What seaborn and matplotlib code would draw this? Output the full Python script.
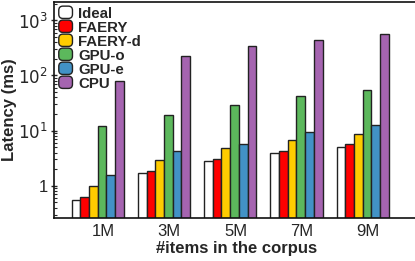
import numpy as np
import pandas as pd
import seaborn as sns
import matplotlib
matplotlib.use("Agg")
import matplotlib.pyplot as plt
from matplotlib.ticker import FixedLocator, LogLocator, NullFormatter
from matplotlib.legend_handler import HandlerPatch
from matplotlib.patches import FancyBboxPatch

categories = ["1M", "3M", "5M", "7M", "9M"]
series = ["Ideal", "FAERY", "FAERY-d", "GPU-o", "GPU-e", "CPU"]
ideal = [0.55, 1.67, 2.8, 3.9, 5.0]
faery = [0.63, 1.87, 3.1, 4.3, 5.6]
faery_d = [0.98, 2.9, 4.8, 6.8, 8.7]
gpu_o = [12.2, 18.8, 29.7, 43, 55]
gpu_e = [1.57, 4.3, 5.7, 9.6, 12.5]
cpu = [79, 221, 347, 446, 575]
colors = ["#FFFFFF", "#FF0000", "#FFCC00", "#5CB85C", "#4292C6", "#A564B0"]

vals = [ideal, faery, faery_d, gpu_o, gpu_e, cpu]
rows = []
for s, v in zip(series, vals):
    for c, x in zip(categories, v):
        rows.append({"corpus": c, "series": s, "latency": x})
df = pd.DataFrame(rows)

sns.set_style("ticks")
plt.rcParams["font.family"] = ["Liberation Sans", "DejaVu Sans"]

fig = plt.figure(figsize=(4.15, 2.61), dpi=100)
ax = fig.add_axes([54 / 415, 1 - 217.5 / 261, 365 / 415, 215.5 / 261])

sns.barplot(data=df, x="corpus", y="latency", hue="series", hue_order=series,
            order=categories, palette=colors, width=0.79, edgecolor="#222222",
            linewidth=1.0, saturation=1, ax=ax, log_scale=(False, True))

ax.set_yscale("log")
ax.set_ylim(0.265, 2150)
ax.set_xlim(-0.66, 4.85)
ax.yaxis.set_major_locator(FixedLocator([1, 10, 100, 1000]))
ax.set_yticklabels(["1", r"$10^1$", r"$10^2$", r"$10^3$"])
ax.yaxis.set_minor_locator(LogLocator(base=10, subs=np.arange(2, 10)))
ax.yaxis.set_minor_formatter(NullFormatter())
ax.set_xticks(np.arange(len(categories)) + 0.08)
ax.set_xticklabels(categories)
ax.tick_params(axis="x", length=0, labelsize=12, pad=5)
ax.tick_params(axis="y", which="major", direction="inout", length=5, width=1, labelsize=12, pad=2)
ax.tick_params(axis="y", which="minor", direction="in", length=2.5, width=0.8)
for sp in ax.spines.values():
    sp.set_linewidth(1.2)
    sp.set_color("#111111")
ax.spines["right"].set_visible(False)

ax.set_xlabel("#items in the corpus", fontsize=12, fontweight="bold", labelpad=1)
ax.set_ylabel("Latency (ms)", fontsize=12, fontweight="bold", labelpad=1)


def make_round(legend, orig_handle, xdescent, ydescent, width, height, fontsize):
    return FancyBboxPatch((-xdescent + 1.5, -ydescent + 1.0), width - 3, height - 2,
                          boxstyle="round,pad=1.3,rounding_size=3")


handles, labels = ax.get_legend_handles_labels()
leg = ax.legend(handles, labels, loc="upper left", frameon=False,
                prop={"weight": "bold", "size": 10.8}, handlelength=0.95,
                handleheight=0.8, handletextpad=0.35, labelspacing=0.0,
                borderaxespad=0.1, borderpad=0.2,
                handler_map={h: HandlerPatch(patch_func=make_round) for h in handles})

fig.savefig("out.png", dpi=100)
